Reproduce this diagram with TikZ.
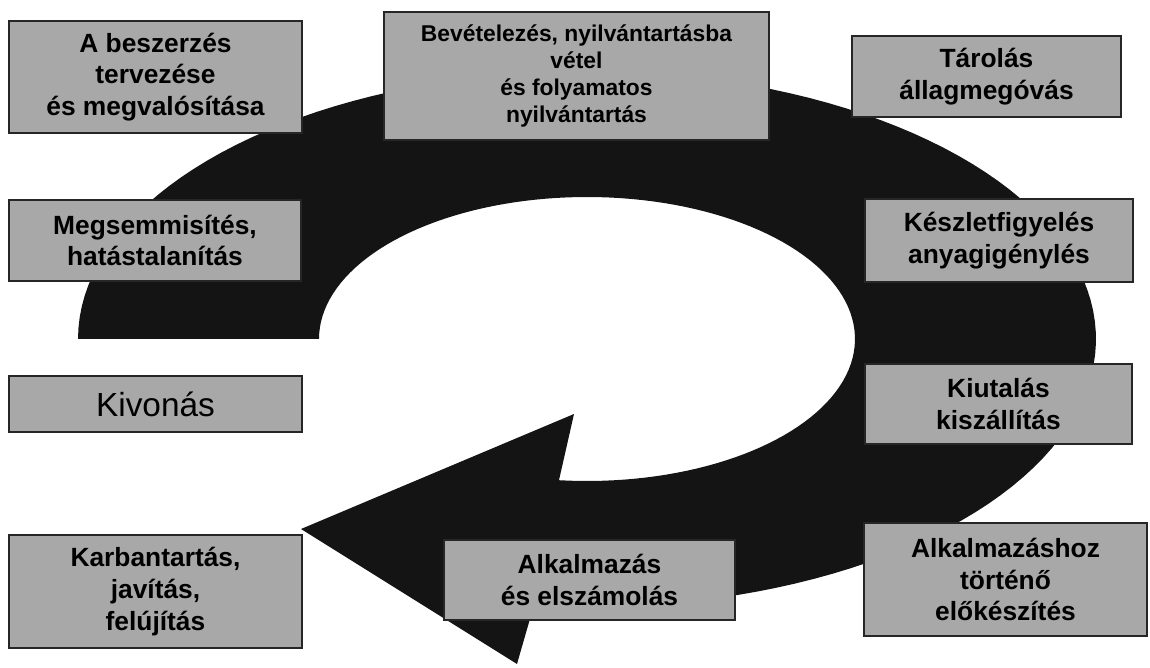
\documentclass[tikz,border=0pt]{standalone}
\usepackage{fontspec}
\setmainfont{Liberation Sans}
\usepackage{tikz}
\definecolor{boxgray}{RGB}{168,168,168}
\definecolor{ringblack}{RGB}{20,20,20}
\newcommand{\pxu}{0.02cm}
\tikzset{
	stepbox/.style={draw=black!85, line width=1.2pt, fill=boxgray, align=center,
		font=\bfseries\fontsize{15}{18}\selectfont, inner sep=2pt},
}

\begin{document}
\begin{tikzpicture}[x=0.02cm, y=-0.02cm]
	\useasboundingbox (0,0) rectangle (1150,668);
	% the ring with its arrow head
	\fill[ringblack] plot[domain=180:456, samples=120] ({587+509*cos(\x)}, {339+268*sin(\x)})
		-- (517,664) -- (301,529) -- (574,414)
		-- plot[domain=456:180, samples=120] ({587+268*cos(\x)}, {339+142*sin(\x)}) -- cycle;
	%
	\node [stepbox, minimum width=293*\pxu, minimum height=112*\pxu] (plan) at (155.5,77) {A beszerzés\\tervezése\\és megvalósítása};
	\node [stepbox, minimum width=385*\pxu, minimum height=128*\pxu, font=\bfseries\fontsize{13}{15.5}\selectfont] (bevet) at (576.5,76) {Bevételezés, nyilvántartásba\\vétel\\és folyamatos\\nyilvántartás};
	\node [stepbox, minimum width=269*\pxu, minimum height=81*\pxu] (tarol) at (986.5,76.5) {Tárolás\\állagmegóvás};
	\node [stepbox, minimum width=292*\pxu, minimum height=81*\pxu] (megsem) at (155,240.5) {Megsemmisítés,\\hatástalanítás};
	\node [stepbox, minimum width=268*\pxu, minimum height=83*\pxu] (keszlet) at (999,240.5) {Készletfigyelés\\anyagigénylés};
	\node [stepbox, minimum width=293*\pxu, minimum height=56*\pxu, font=\fontsize{19}{22}\selectfont] (kivon) at (155.5,404) {Kivonás};
	\node [stepbox, minimum width=267*\pxu, minimum height=80*\pxu] (kiutal) at (998.5,404) {Kiutalás\\kiszállítás};
	\node [stepbox, minimum width=293*\pxu, minimum height=113*\pxu] (karban) at (155.5,591.5) {Karbantartás,\\javítás,\\felújítás};
	\node [stepbox, minimum width=291*\pxu, minimum height=80*\pxu] (alkalm) at (589.5,580) {Alkalmazás\\és elszámolás};
	\node [stepbox, minimum width=283*\pxu, minimum height=113*\pxu] (elokesz) at (1005.5,579.5) {Alkalmazáshoz\\történő\\előkészítés};
\end{tikzpicture}
\end{document}
